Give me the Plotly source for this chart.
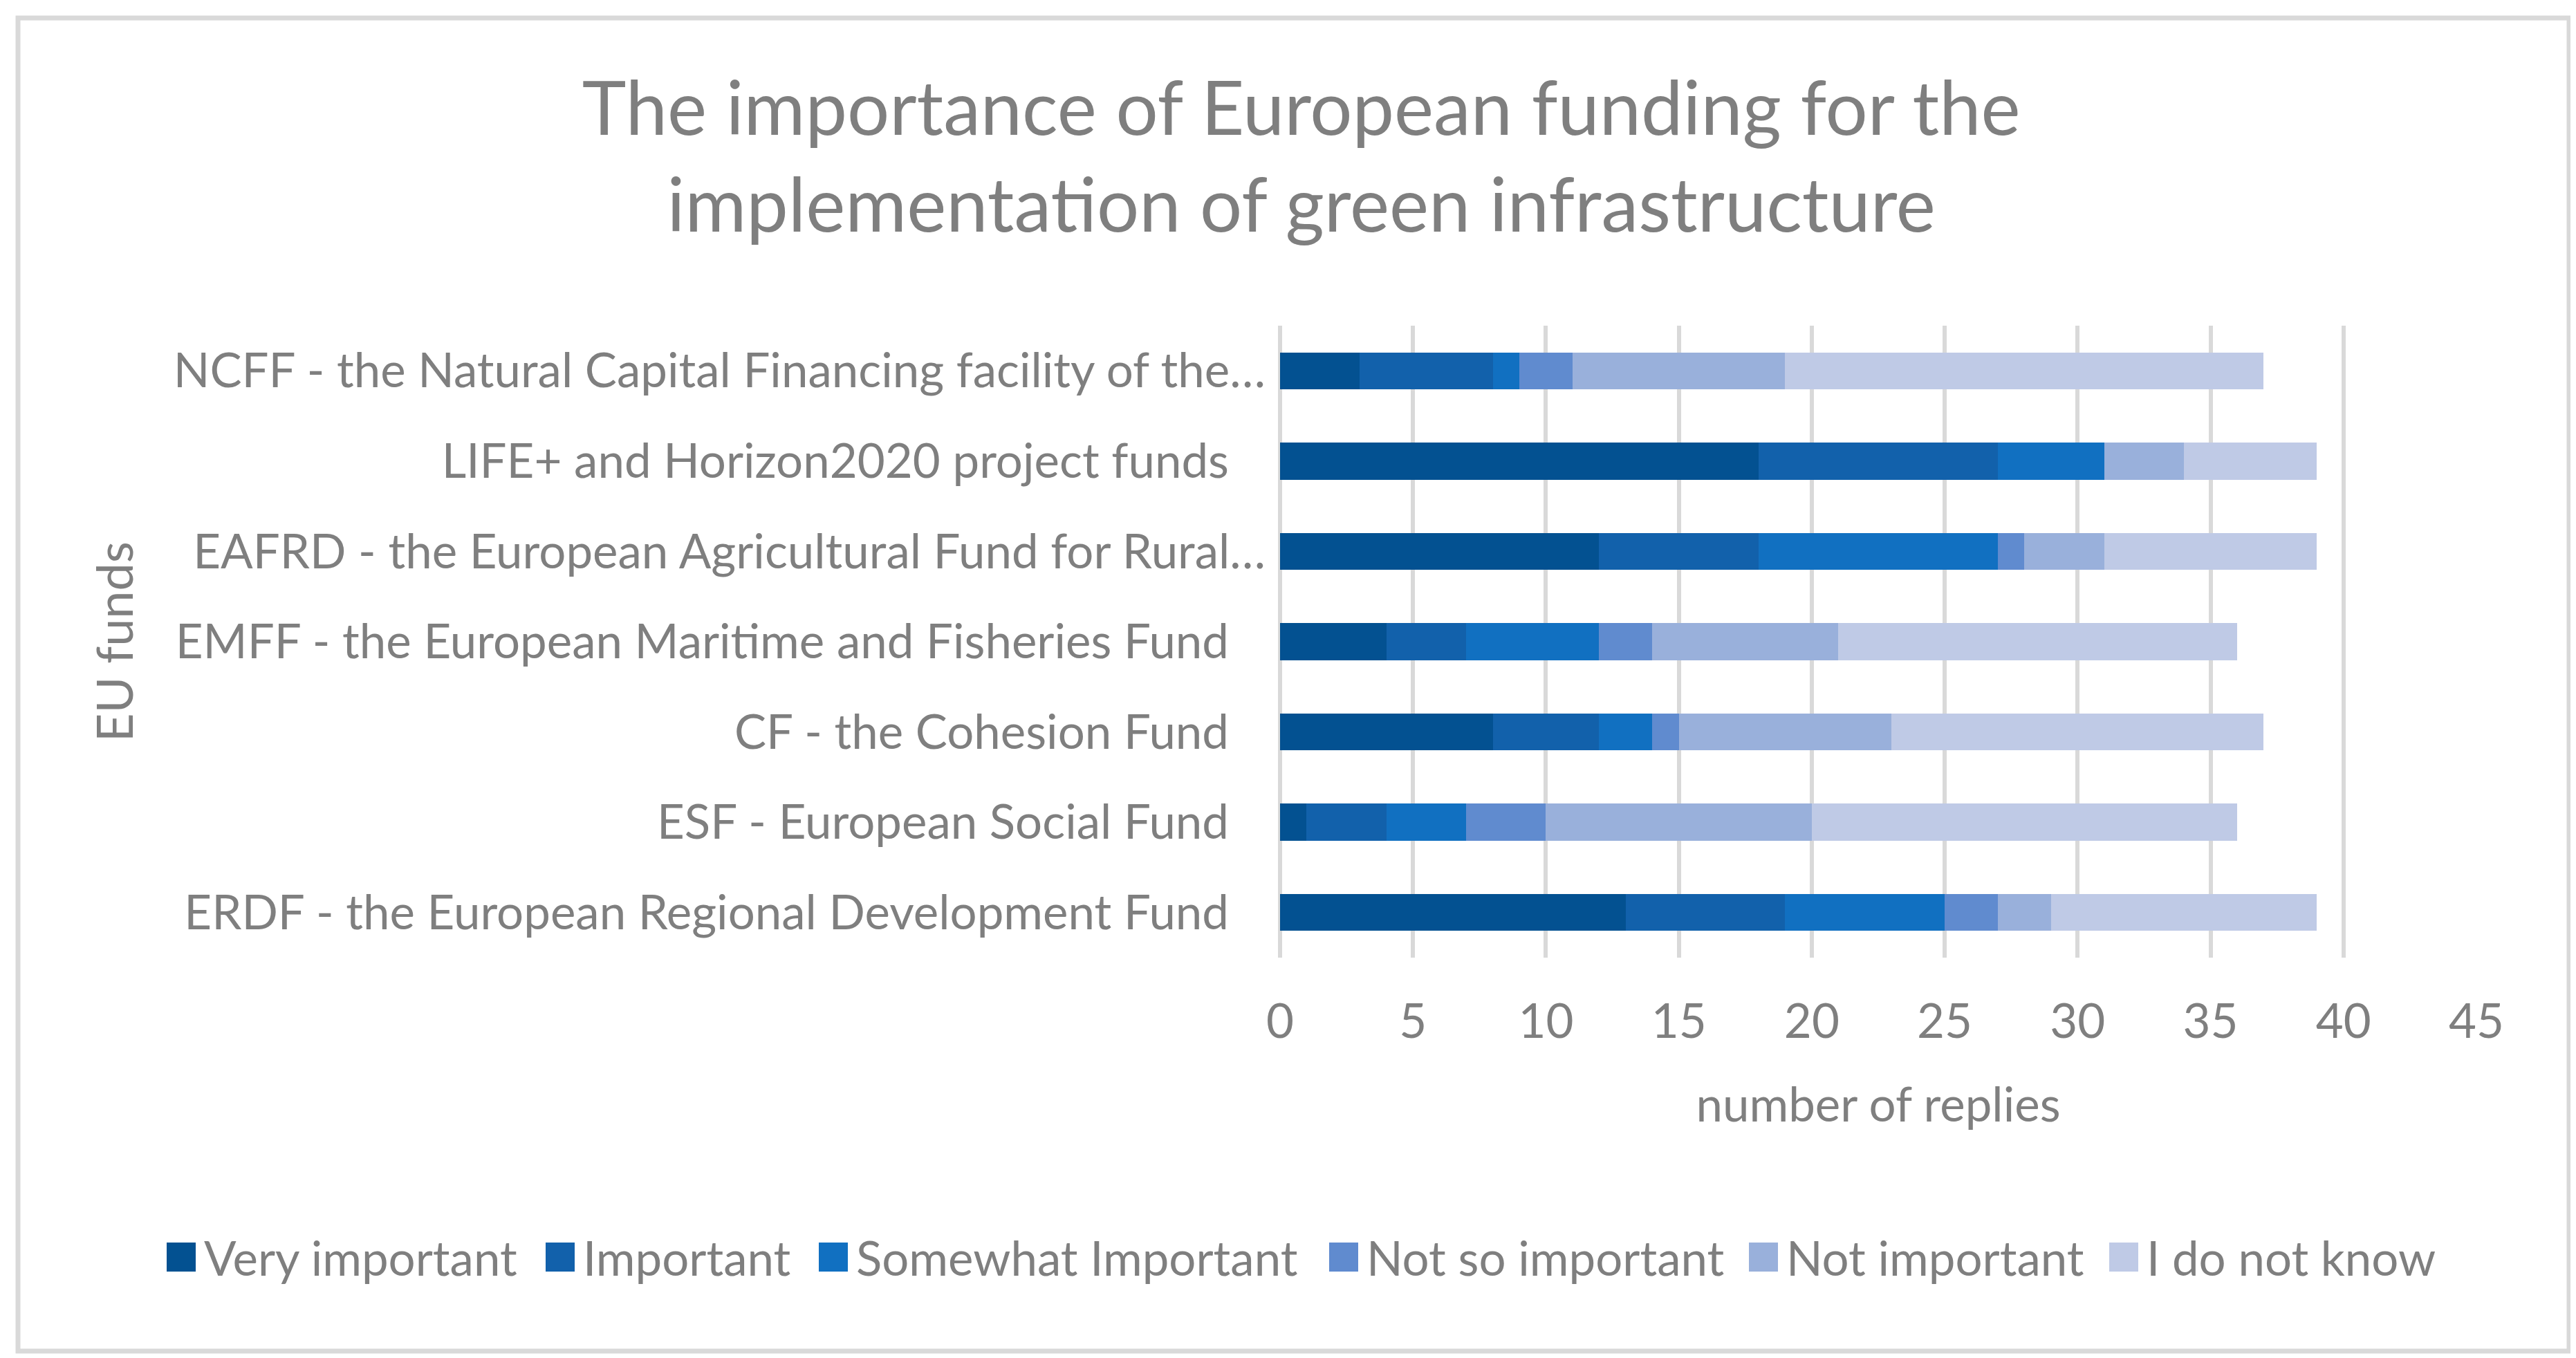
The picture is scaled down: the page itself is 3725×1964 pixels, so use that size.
import plotly.graph_objects as go

# categories listed bottom to top, as the chart draws them
funds = [
    "ERDF - the European Regional Development Fund",
    "ESF - European Social Fund",
    "CF - the Cohesion Fund",
    "EMFF - the European Maritime and Fisheries Fund",
    "EAFRD - the European Agricultural Fund for Rural…",
    "LIFE+ and Horizon2020 project funds",
    "NCFF - the Natural Capital Financing facility of the…",
]

very_important = [13, 1, 8, 4, 12, 18, 3]
important = [6, 3, 4, 3, 6, 9, 5]
somewhat_important = [6, 3, 2, 5, 9, 4, 1]
not_so_important = [2, 3, 1, 2, 1, 0, 2]
not_important = [2, 10, 8, 7, 3, 3, 8]
do_not_know = [10, 16, 14, 15, 8, 5, 18]

series = [
    ("Very important", very_important, "#035191"),
    ("Important", important, "#1261AB"),
    ("Somewhat Important", somewhat_important, "#1170C1"),
    ("Not so important", not_so_important, "#608BCF"),
    ("Not important", not_important, "#99B0DB"),
    ("I do not know", do_not_know, "#BFCAE6"),
]

x_ticks = [0, 5, 10, 15, 20, 25, 30, 35, 40, 45]

W, H = 3725, 1964
L, R, T, B = 1843, 152, 463, 587
FONT = "Lato, 'Open Sans', sans-serif"
GREY = "#7F7F7F"
FS = 69

fig = go.Figure()
for name, vals, col in series:
    fig.add_trace(go.Bar(name=name, y=funds, x=vals, orientation="h",
                         marker=dict(color=col, line=dict(width=0))))

# labels Excel did not cut sit a little further from the axis
ticktext = [f if f.endswith("…") else f + "\u00a0\u00a0\u00a0" for f in funds]

pw, ph = W - L - R, H - T - B
def px(x):
    return (x - L) / pw
def py(y):
    return (H - B - y) / ph

# legend drawn by hand so the swatches get Excel's size
legend_x = [233, 781, 1176, 1914, 2521, 3042]
legend_y, sw = 1810, 42
shapes = [dict(type="rect", xref="paper", yref="paper",
               x0=px(18), x1=px(3707), y0=py(1946), y1=py(18),
               line=dict(color="#D9D9D9", width=7), layer="below")]
annotations = []
for (name, _, col), lx in zip(series, legend_x):
    shapes.append(dict(type="rect", xref="paper", yref="paper",
                       x0=px(lx), x1=px(lx + sw),
                       y0=py(legend_y + sw / 2), y1=py(legend_y - sw / 2),
                       fillcolor=col, line=dict(width=0)))
    annotations.append(dict(text=name, xref="paper", yref="paper",
                            x=px(lx + sw + 10), y=py(legend_y),
                            xanchor="left", yanchor="middle", showarrow=False,
                            font=dict(size=FS, color=GREY)))

fig.update_layout(
    width=W, height=H,
    margin=dict(l=L, r=R, t=T, b=B),
    paper_bgcolor="white", plot_bgcolor="white",
    barmode="stack", bargap=0.59, showlegend=False,
    font=dict(family=FONT, color=GREY, size=FS),
    title=dict(text="The importance of European funding for the<br>implementation of green infrastructure",
               x=0.503, xanchor="center", xref="container",
               y=0.905, yanchor="middle", yref="container",
               font=dict(size=108, color=GREY, family=FONT)),
    xaxis=dict(range=[0, 45], tickvals=x_ticks, showgrid=True,
               gridcolor="#D9D9D9", gridwidth=6, zeroline=True,
               zerolinecolor="#D9D9D9", zerolinewidth=6, showline=False,
               ticks="", ticklabelstandoff=46,
               tickfont=dict(size=FS, color=GREY),
               title=dict(text="number of replies", standoff=58,
                          font=dict(size=FS, color=GREY))),
    yaxis=dict(type="category", tickvals=funds, ticktext=ticktext,
               showgrid=False, showline=False, ticks="",
               ticklabelstandoff=20,
               tickfont=dict(size=FS, color=GREY),
               title=dict(text="EU funds", standoff=34,
                          font=dict(size=72, color=GREY))),
    shapes=shapes,
    annotations=annotations,
)

fig.write_html("out.html")
